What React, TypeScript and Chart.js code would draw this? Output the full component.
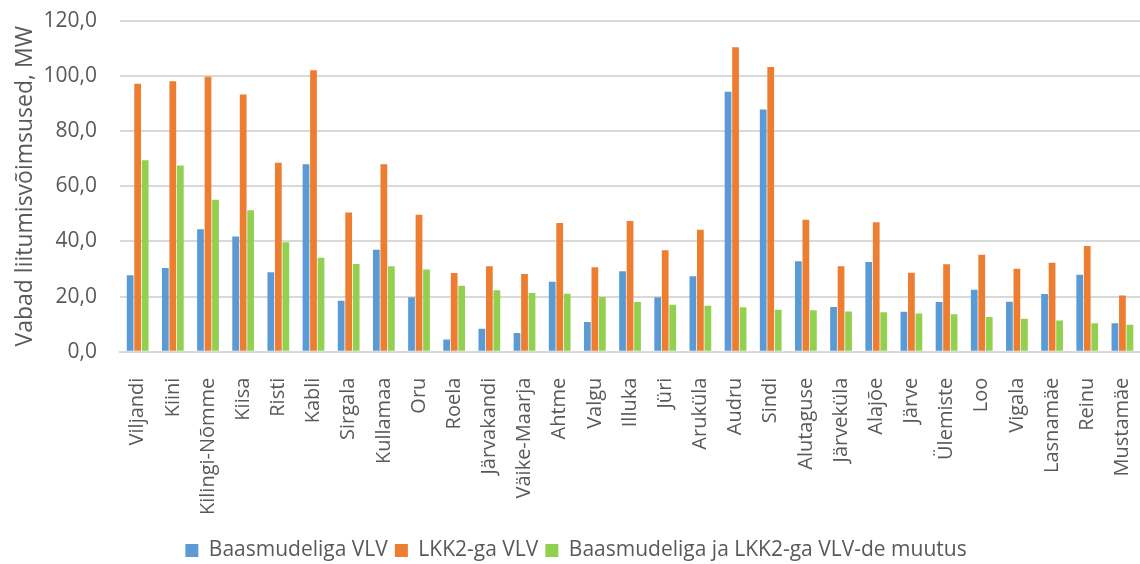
import React, { useEffect, useRef } from "react";
import { Chart, registerables } from "chart.js";

Chart.register(...registerables);

const categories = [
  "Viljandi", "Kiini", "Kilingi-Nõmme", "Kiisa", "Risti", "Kabli", "Sirgala", "Kullamaa",
  "Oru", "Roela", "Järvakandi", "Väike-Maarja", "Ahtme", "Valgu", "Illuka", "Jüri",
  "Aruküla", "Audru", "Sindi", "Alutaguse", "Järveküla", "Alajõe", "Järve", "Ülemiste",
  "Loo", "Vigala", "Lasnamäe", "Reinu", "Mustamäe",
];

const baasmudel = [
  27.7, 30.4, 44.4, 41.8, 28.8, 68.0, 18.5, 37.0,
  19.7, 4.4, 8.3, 6.8, 25.4, 10.8, 29.2, 19.7,
  27.4, 94.3, 87.9, 32.8, 16.2, 32.5, 14.5, 18.0,
  22.5, 18.1, 20.9, 27.9, 10.3,
];

const lkk2 = [
  97.2, 98.1, 99.8, 93.3, 68.6, 102.1, 50.5, 68.0,
  49.7, 28.5, 31.0, 28.2, 46.7, 30.6, 47.4, 36.8,
  44.2, 110.5, 103.3, 47.9, 31.0, 47.0, 28.6, 31.7,
  35.2, 30.1, 32.3, 38.3, 20.4,
];

const muutus = [
  69.5, 67.6, 55.1, 51.3, 39.7, 34.1, 31.8, 31.0,
  29.8, 23.9, 22.3, 21.3, 21.0, 19.8, 18.0, 17.0,
  16.7, 16.1, 15.2, 15.0, 14.6, 14.3, 13.8, 13.6,
  12.6, 11.9, 11.3, 10.3, 9.8,
];

const seriesNames = [
  "Baasmudeliga VLV",
  "LKK2-ga VLV",
  "Baasmudeliga ja LKK2-ga VLV-de muutus",
];
const seriesColors = ["#5B9BD5", "#ED7D31", "#92D050"];
const yTitle = "Vabad liitumisvõimsused, MW";

export default function App() {
  const ref = useRef<HTMLCanvasElement | null>(null);

  useEffect(() => {
    document.body.style.margin = "0";
    if (!ref.current) return;
    const font = "'Open Sans', sans-serif";
    const data = [baasmudel, lkk2, muutus];
    const chart = new Chart(ref.current, {
      type: "bar",
      data: {
        labels: categories,
        datasets: data.map((d, i) => ({
          label: seriesNames[i],
          data: d,
          backgroundColor: seriesColors[i],
          borderWidth: 0,
          categoryPercentage: 0.64,
          barPercentage: 0.9,
        })),
      },
      options: {
        responsive: false,
        animation: false,
        layout: { padding: { top: 21, right: 0, left: 12, bottom: -7 } },
        plugins: {
          tooltip: { enabled: false },
          legend: {
            position: "bottom",
            labels: {
              font: { family: font, size: 21 },
              color: "#595959",
              boxWidth: 13,
              boxHeight: 13,
              padding: 7,
            },
          },
        },
        scales: {
          x: {
            grid: { display: false },
            border: { display: true, color: "#d9d9d9", width: 2 },
            afterFit: (scale: any) => {
              scale.paddingRight = 0;
              scale.paddingLeft = 0;
            },
            ticks: {
              font: { family: font, size: 20 },
              color: "#595959",
              maxRotation: 90,
              minRotation: 90,
              autoSkip: false,
              padding: 18,
            },
          },
          y: {
            min: 0,
            max: 120,
            grid: {
              color: "#d9d9d9",
              lineWidth: 2,
              drawTicks: true,
              tickLength: 23,
              tickColor: "rgba(0,0,0,0)",
            },
            border: { display: false },
            ticks: {
              stepSize: 20,
              font: { family: font, size: 21 },
              color: "#595959",
              padding: 0,
              callback: (v: any) => Number(v).toFixed(1).replace(".", ","),
            },
            title: {
              display: true,
              text: yTitle,
              font: { family: font, size: 23 },
              color: "#595959",
              padding: { top: 0, bottom: 4 },
            },
          },
        },
      },
    });
    return () => chart.destroy();
  }, []);

  return <canvas ref={ref} width={1140} height={564} style={{ display: "block" }} />;
}
